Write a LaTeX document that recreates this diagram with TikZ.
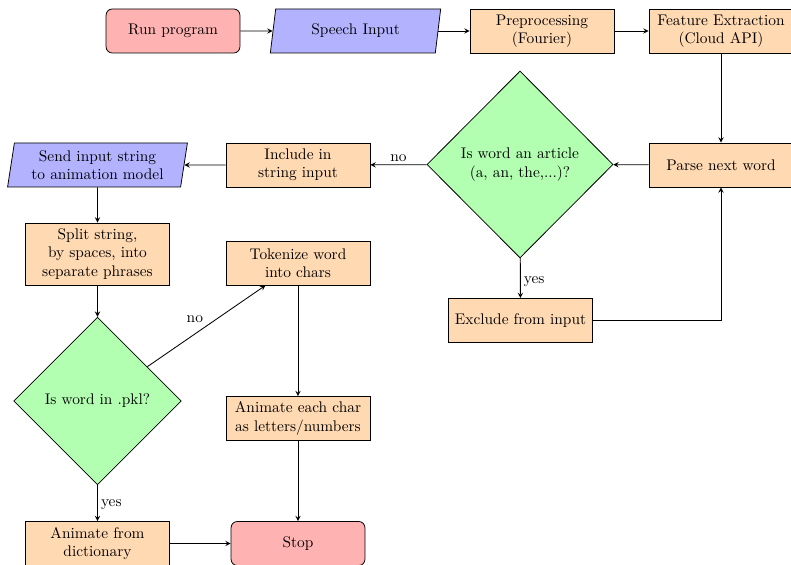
\documentclass[tikz,border=0pt]{standalone}
\usetikzlibrary{shapes.geometric,arrows}
\tikzset{
  base/.style={draw, align=center, inner sep=2pt, line width=0.5pt},
  startstop/.style={base, rounded corners=4pt, fill=red!30, minimum width=87pt, minimum height=28.6pt},
  process/.style={base, fill=orange!30, minimum width=93.6pt, minimum height=28.6pt},
  io/.style={base, trapezium, trapezium left angle=81, trapezium right angle=99, trapezium stretches=true, fill=blue!30, minimum height=28.6pt},
  decision/.style={base, diamond, aspect=1, fill=green!30, inner sep=0pt},
  arrow/.style={->, >=stealth, line width=0.55pt},
  lbl/.style={inner sep=2pt}
}
\begin{document}
\begin{tikzpicture}[x=0.65pt,y=-0.65pt]
\useasboundingbox (0,0) rectangle (791,565);
\clip (0,0) rectangle (791,565);
\node[startstop] (run) at (173,31) {Run program};
\node[io, minimum width=111pt] (speech) at (355.5,31) {Speech Input};
\node[process] (prep) at (542,31) {Preprocessing\\(Fourier)};
\node[process] (feat) at (721,31) {Feature Extraction\\(Cloud API)};
\node[process] (parse) at (721,165) {Parse next word};
\node[decision, minimum width=121pt, minimum height=121.5pt] (art) at (520,164.5) {Is word an article\\(a, an, the,...)?};
\node[process] (incl) at (298,165) {Include in\\string input};
\node[io, minimum width=118pt] (send) at (97.5,165) {Send input string\\to animation model};
\node[process] (excl) at (520.5,320.5) {Exclude from input};
\node[process, minimum height=40.3pt] (split) at (97.5,254) {Split string,\\by spaces, into\\separate phrases};
\node[process] (tok) at (298,263) {Tokenize word\\into chars};
\node[decision, minimum width=109pt, minimum height=109pt] (pkl) at (97.5,401) {Is word in .pkl?};
\node[process] (each) at (298,418.5) {Animate each char\\as letters/numbers};
\node[process] (dict) at (97.5,543.5) {Animate from\\dictionary};
\node[startstop] (stop) at (298,543.5) {Stop};

\draw[arrow] (run) -- (speech);
\draw[arrow] (speech) -- (prep);
\draw[arrow] (prep) -- (feat);
\draw[arrow] (feat) -- (parse);
\draw[arrow] (parse) -- (art);
\draw[arrow] (art) -- node[lbl, above]{no} (incl);
\draw[arrow] (incl) -- (send);
\draw[arrow] (art) -- node[lbl, right, pos=0.6]{yes} (excl);
\draw[arrow] (excl.east) -| (parse.south);
\draw[arrow] (send) -- (split);
\draw[arrow] (split) -- (pkl);
\draw[arrow] (pkl) -- node[lbl, above left, pos=0.5]{no} (tok);
\draw[arrow] (tok) -- (each);
\draw[arrow] (each) -- (stop);
\draw[arrow] (pkl) -- node[lbl, right, pos=0.55]{yes} (dict);
\draw[arrow] (dict) -- (stop);
\end{tikzpicture}
\end{document}
